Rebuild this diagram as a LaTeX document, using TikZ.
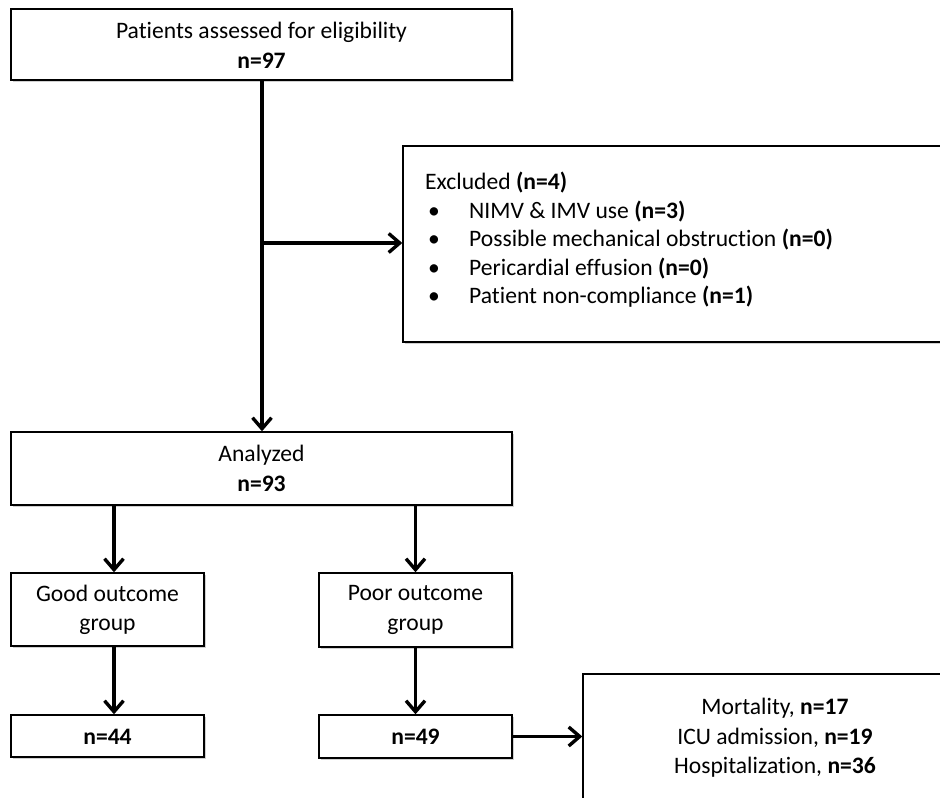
\documentclass[tikz,border=0pt]{standalone}
\usepackage{fontspec}
\setmainfont{Carlito}[Ligatures=NoCommon]
\usetikzlibrary{arrows.meta,shadows}
\tikzset{
  box/.style={draw=black, line width=1.4pt, fill=white, inner sep=0pt,
    drop shadow={shadow xshift=1.5pt, shadow yshift=-1.5pt, opacity=0.3, fill=black!60}},
  txt/.style={font=\fontsize{23.6}{29.5}\selectfont, align=center, inner sep=0pt},
  arr/.style={line width=3.4pt, -{Straight Barb[length=11pt,width=19pt,line width=3.4pt]}},
}
\begin{document}
\begin{tikzpicture}[x=1pt,y=-1pt]
\clip (0,0) rectangle (940,798);
\fill[white] (0,0) rectangle (940,798);
% boxes
\node[box, minimum width=501pt, minimum height=71pt] (top) at (261.5,44.5) {};
\node[txt] (toptext) at (261.5,45.5) {Patients assessed for eligibility\\\textbf{n=97}};
\node[box, minimum width=560pt, minimum height=196pt] (exc) at (683,244) {};
\node[txt, align=left, anchor=west, font=\fontsize{23.6}{28.5}\selectfont] (exctext) at (425,240) {%
Excluded \textbf{(n=4)}\\
\hspace*{3pt}\makebox[41pt][l]{•}NIMV \& IMV use \textbf{(n=3)}\\
\hspace*{3pt}\makebox[41pt][l]{•}Possible mechanical obstruction \textbf{(n=0)}\\
\hspace*{3pt}\makebox[41pt][l]{•}Pericardial effusion \textbf{(n=0)}\\
\hspace*{3pt}\makebox[41pt][l]{•}Patient non-compliance \textbf{(n=1)}};
\node[box, minimum width=501pt, minimum height=73pt] (ana) at (261.5,468.5) {};
\node[txt] (anatext) at (261.5,468.5) {Analyzed\\\textbf{n=93}};
\node[box, minimum width=193pt, minimum height=73pt] (good) at (107.5,609.5) {};
\node[txt] (goodtext) at (107.5,610) {Good outcome\\group};
\node[box, minimum width=193pt, minimum height=74pt] (poor) at (415.5,610) {};
\node[txt] (poortext) at (415.5,610) {Poor outcome\\group};
\node[box, minimum width=193pt, minimum height=42pt] (g44) at (107.5,736) {};
\node[txt] (g44text) at (107.5,736.5) {\textbf{n=44}};
\node[box, minimum width=193pt, minimum height=43pt] (p49) at (415.5,736.5) {};
\node[txt] (p49text) at (415.5,736.5) {\textbf{n=49}};
\node[box, minimum width=380pt, minimum height=160pt] (out) at (773,754) {};
\node[txt] (outtext) at (775,738) {Mortality, \textbf{n=17}\\ICU admission, \textbf{n=19}\\Hospitalization, \textbf{n=36}};
% connectors
\coordinate (br) at (262,243);
\coordinate (gx) at (114,0);
\draw[arr] (top.south -| br) -- (ana.north -| br);
\draw[arr] (br) -- (exc.west |- br);
\draw[arr] (ana.south -| gx) -- (good.north -| gx);
\draw[arr] (ana.south -| poor) -- (poor.north);
\draw[arr] (good.south -| gx) -- (g44.north -| gx);
\draw[arr] (poor.south) -- (p49.north);
\draw[arr] (p49.east) -- (out.west |- p49.east);
\end{tikzpicture}
\end{document}
